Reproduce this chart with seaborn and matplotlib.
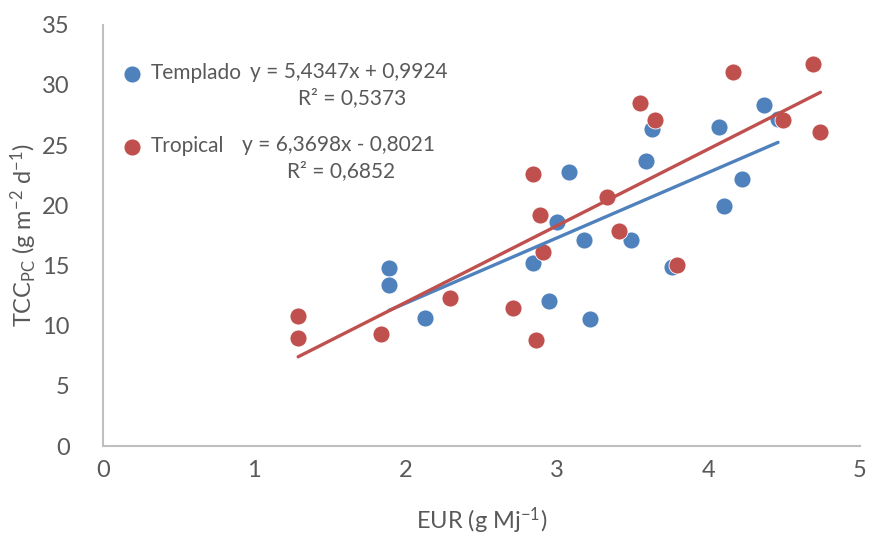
import matplotlib
matplotlib.use("Agg")
import matplotlib.pyplot as plt
import seaborn as sns
import pandas as pd
import numpy as np

sns.set_style("white")
plt.rcParams['font.family'] = ['Lato', 'DejaVu Sans']
plt.rcParams['mathtext.fontset'] = 'custom'
plt.rcParams['mathtext.rm'] = 'Lato'
plt.rcParams['mathtext.it'] = 'Lato:italic'

# --- data ---
templado_x = [1.89, 1.89, 2.13, 2.84, 2.95, 3.00, 3.08, 3.18, 3.22, 3.49,
              3.59, 3.63, 3.76, 4.07, 4.10, 4.22, 4.37, 4.46]
templado_y = [14.8, 13.4, 10.6, 15.2, 12.05, 18.6, 22.8, 17.1, 10.55, 17.1,
              23.7, 26.3, 14.9, 26.5, 19.95, 22.2, 28.35, 27.2]
tropical_x = [1.29, 1.29, 1.84, 2.29, 2.71, 2.84, 2.86, 2.89, 2.91, 3.33,
              3.41, 3.55, 3.65, 3.79, 4.16, 4.49, 4.69, 4.74]
tropical_y = [10.8, 8.95, 9.3, 12.3, 11.5, 22.6, 8.8, 19.2, 16.15, 20.7,
              17.9, 28.5, 27.1, 15.0, 31.1, 27.1, 31.75, 26.1]

groups = ['Templado', 'Tropical']
slopes = [5.4347, 6.3698]
intercepts = [0.9924, -0.8021]
eq_labels = ['y = 5,4347x + 0,9924', 'y = 6,3698x - 0,8021']
r2_labels = ['R² = 0,5373', 'R² = 0,6852']
colors = ['#4F81BD', '#C0504D']

x_ticks = [0, 1, 2, 3, 4, 5]
y_ticks = [0, 5, 10, 15, 20, 25, 30, 35]

df = pd.DataFrame({
    'x': templado_x + tropical_x,
    'y': templado_y + tropical_y,
    'grupo': ['Templado'] * len(templado_x) + ['Tropical'] * len(tropical_x),
})

text_color = '#595959'
axis_color = '#BFBFBF'


def generate_plot():
    fig = plt.figure(figsize=(8.72, 5.39), dpi=100)
    ax = fig.add_axes([0.118, 0.1725, 0.868, 0.7815])

    for i, g in enumerate(groups):
        sub = df[df['grupo'] == g]
        sns.scatterplot(data=sub, x='x', y='y', ax=ax, color=colors[i], s=150,
                        edgecolor='white', linewidth=0.6, zorder=2 + i, label=g)
        # trendline from the equation shown in the chart
        xs = np.array([sub['x'].min(), sub['x'].max()])
        line_df = pd.DataFrame({'x': xs, 'y': slopes[i] * xs + intercepts[i]})
        sns.lineplot(data=line_df, x='x', y='y', ax=ax, color=colors[i],
                     linewidth=2.4, zorder=4 + i)

    ax.set_xlim(0, 5)
    ax.set_ylim(0, 35)
    ax.set_xticks(x_ticks)
    ax.set_yticks(y_ticks)
    ax.tick_params(axis='both', labelsize=17, colors=text_color, length=0)
    ax.tick_params(axis='x', pad=10)
    ax.tick_params(axis='y', pad=24)
    for side in ['top', 'right']:
        ax.spines[side].set_visible(False)
    for side in ['left', 'bottom']:
        ax.spines[side].set_color(axis_color)
        ax.spines[side].set_linewidth(1.5)

    ax.set_xlabel('EUR (g Mj$^{-1}$)', fontsize=17, color=text_color, labelpad=18)
    ax.set_ylabel('TCC$_{\\mathrm{PC}}$ (g m$^{-2}$ d$^{-1}$)', fontsize=17,
                  color=text_color, labelpad=2)

    leg = ax.legend(loc='upper left', bbox_to_anchor=(0.116, 0.898),
                    bbox_transform=fig.transFigure, frameon=False,
                    fontsize=15, labelspacing=2.55, handletextpad=-0.2,
                    borderaxespad=0, handlelength=2.2)
    for t in leg.get_texts():
        t.set_color(text_color)
    for h in leg.legend_handles:
        h.set_sizes([150])
        h.set_edgecolor('white')

    eq_pos = [(0.287, 0.866), (0.278, 0.731)]
    r2_pos = [(0.404, 0.818), (0.391, 0.683)]
    for i in range(2):
        fig.text(eq_pos[i][0], eq_pos[i][1], eq_labels[i], fontsize=15,
                 color=text_color, ha='left', va='center')
        fig.text(r2_pos[i][0], r2_pos[i][1], r2_labels[i], fontsize=15,
                 color=text_color, ha='center', va='center')

    plt.savefig('out.png', dpi=100)


if __name__ == '__main__':
    generate_plot()
